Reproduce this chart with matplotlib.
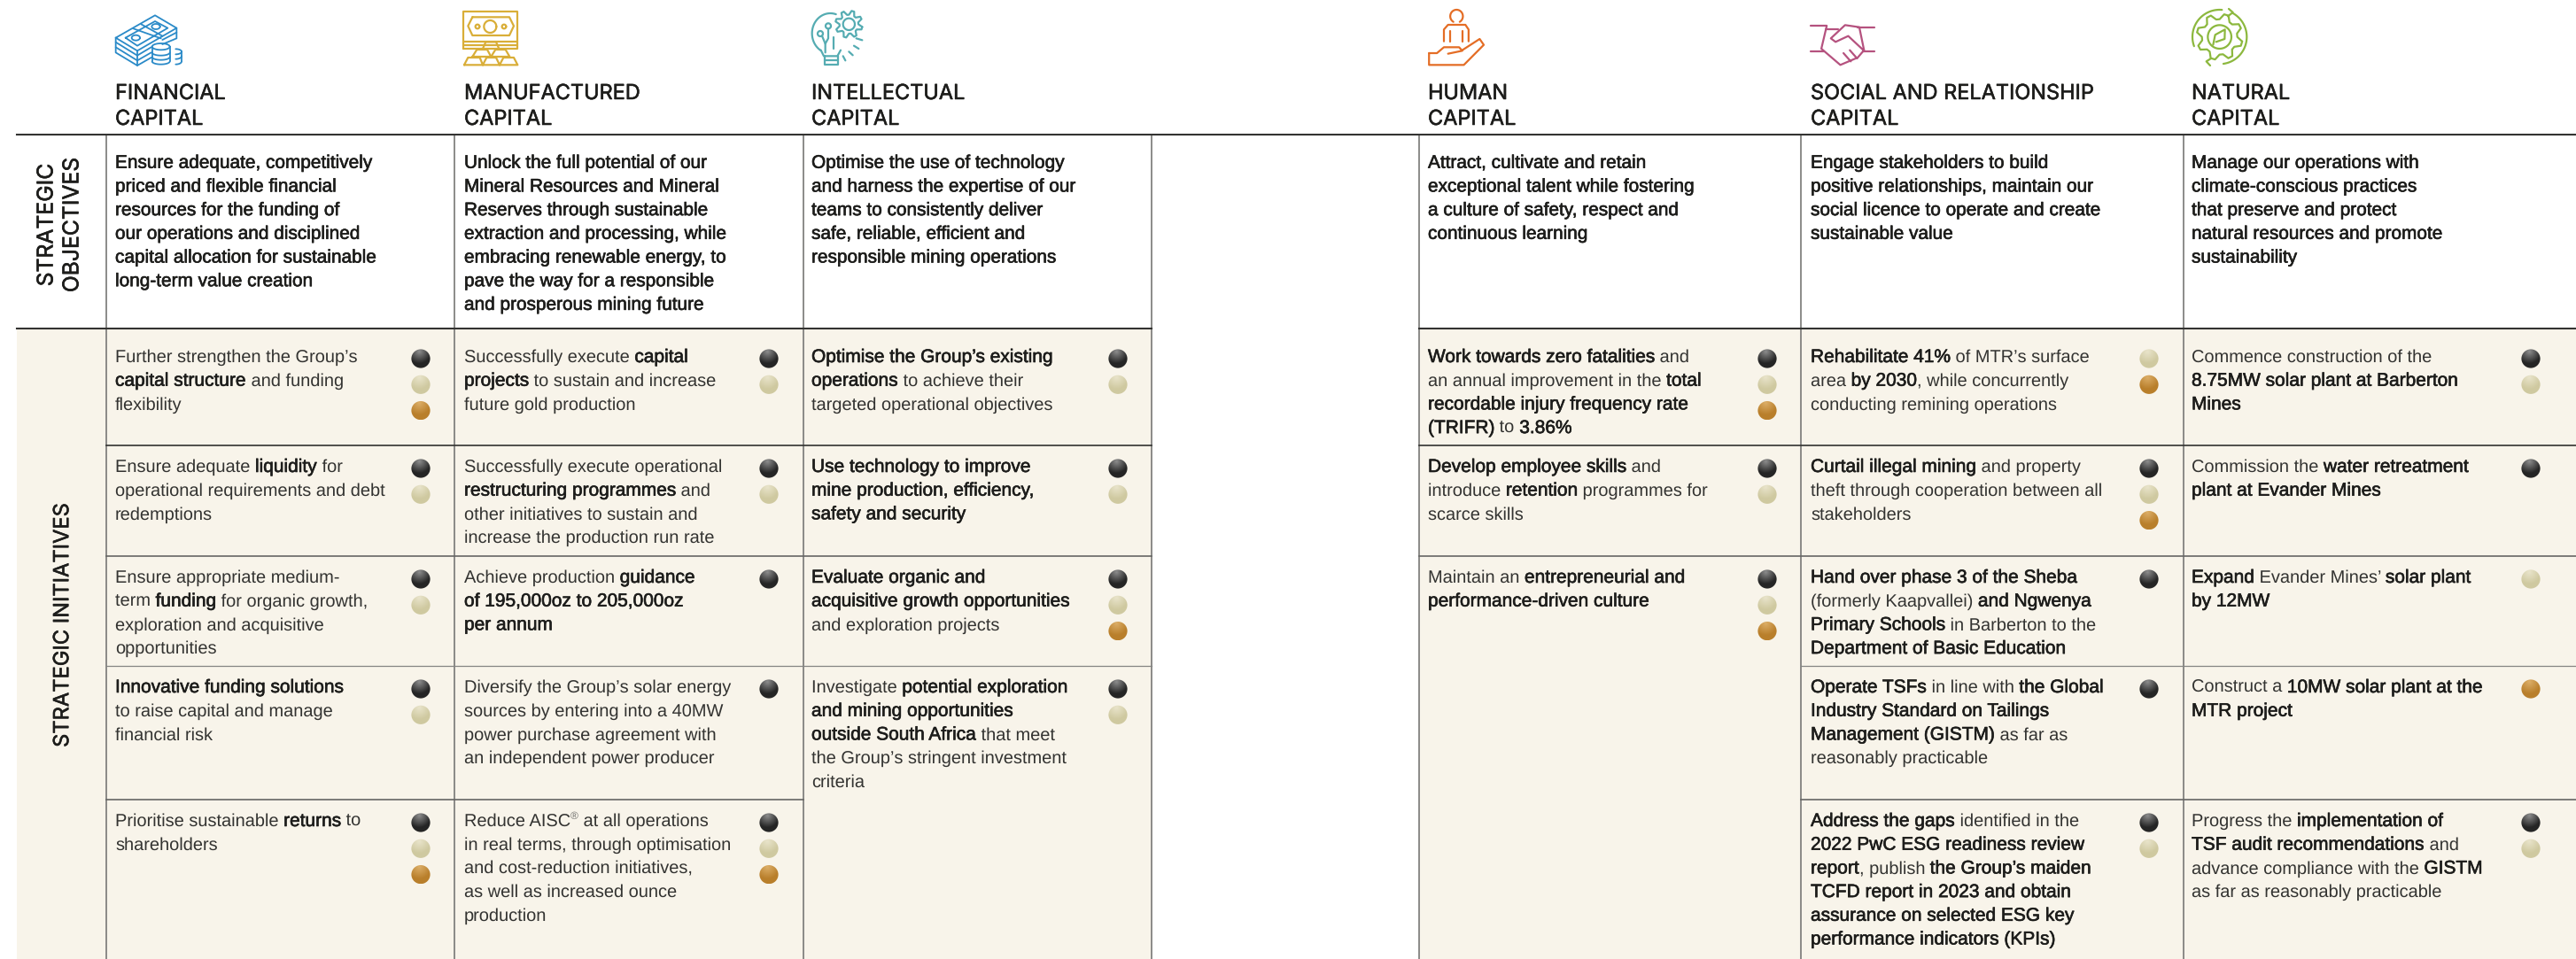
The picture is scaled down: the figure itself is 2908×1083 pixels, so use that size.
import re
import numpy as np
import matplotlib
matplotlib.use('Agg')
import matplotlib.pyplot as plt
import matplotlib.patheffects as pe
from matplotlib.patches import Rectangle, Circle
from matplotlib.textpath import TextPath
from matplotlib.font_manager import FontProperties

W, H = 2908, 1083
PX = 0.72  # px to pt at dpi 100

HEADERS = [['FINANCIAL', 'CAPITAL'], ['MANUFACTURED', 'CAPITAL'], ['INTELLECTUAL', 'CAPITAL'],
           ['HUMAN', 'CAPITAL'], ['SOCIAL AND RELATIONSHIP', 'CAPITAL'], ['NATURAL', 'CAPITAL']]

OBJECTIVES = [
    "Ensure adequate, competitively\npriced and flexible financial\nresources for the funding of\nour operations and disciplined\ncapital allocation for sustainable\nlong-term value creation",
    "Unlock the full potential of our\nMineral Resources and Mineral\nReserves through sustainable\nextraction and processing, while\nembracing renewable energy, to\npave the way for a responsible\nand prosperous mining future",
    "Optimise the use of technology\nand harness the expertise of our\nteams to consistently deliver\nsafe, reliable, efficient and\nresponsible mining operations",
    "Attract, cultivate and retain\nexceptional talent while fostering\na culture of safety, respect and\ncontinuous learning",
    "Engage stakeholders to build\npositive relationships, maintain our\nsocial licence to operate and create\nsustainable value",
    "Manage our operations with\nclimate-conscious practices\nthat preserve and protect\nnatural resources and promote\nsustainability",
]

INITIATIVES = [
    ["Further strengthen the Group’s\n**capital structure** and funding\nflexibility",
     "Ensure adequate **liquidity** for\noperational requirements and debt\nredemptions",
     "Ensure appropriate medium-\nterm **funding** for organic growth,\nexploration and acquisitive\nopportunities",
     "**Innovative funding solutions**\nto raise capital and manage\nfinancial risk",
     "Prioritise sustainable **returns** to\nshareholders"],
    ["Successfully execute **capital**\n**projects** to sustain and increase\nfuture gold production",
     "Successfully execute operational\n**restructuring programmes** and\nother initiatives to sustain and\nincrease the production run rate",
     "Achieve production **guidance**\n**of 195,000oz to 205,000oz**\n**per annum**",
     "Diversify the Group’s solar energy\nsources by entering into a 40MW\npower purchase agreement with\nan independent power producer",
     "Reduce AISC^®^ at all operations\nin real terms, through optimisation\nand cost-reduction initiatives,\nas well as increased ounce\nproduction"],
    ["**Optimise the Group’s existing**\n**operations** to achieve their\ntargeted operational objectives",
     "**Use technology to improve**\n**mine production, efficiency,**\n**safety and security**",
     "**Evaluate organic and**\n**acquisitive growth opportunities**\nand exploration projects",
     "Investigate **potential exploration**\n**and mining opportunities**\n**outside South Africa** that meet\nthe Group’s stringent investment\ncriteria"],
    ["**Work towards zero fatalities** and\nan annual improvement in the **total**\n**recordable injury frequency rate**\n**(TRIFR)** to **3.86%**",
     "**Develop employee skills** and\nintroduce **retention** programmes for\nscarce skills",
     "Maintain an **entrepreneurial and**\n**performance-driven culture**"],
    ["**Rehabilitate 41%** of MTR’s surface\narea **by 2030**, while concurrently\nconducting remining operations",
     "**Curtail illegal mining** and property\ntheft through cooperation between all\nstakeholders",
     "**Hand over phase 3 of the Sheba**\n(formerly Kaapvallei) **and Ngwenya**\n**Primary Schools** in Barberton to the\n**Department of Basic Education**",
     "**Operate TSFs** in line with **the Global**\n**Industry Standard on Tailings**\n**Management (GISTM)** as far as\nreasonably practicable",
     "**Address the gaps** identified in the\n**2022 PwC ESG readiness review**\n**report**, publish **the Group’s maiden**\n**TCFD report in 2023 and obtain**\n**assurance on selected ESG key**\n**performance indicators (KPIs)**"],
    ["Commence construction of the\n**8.75MW solar plant at Barberton**\n**Mines**",
     "Commission the **water retreatment**\n**plant at Evander Mines**",
     "**Expand** Evander Mines’ **solar plant**\n**by 12MW**",
     "Construct a **10MW solar plant at the**\n**MTR project**",
     "Progress the **implementation of**\n**TSF audit recommendations** and\nadvance compliance with the **GISTM**\nas far as reasonably practicable"],
]

# k dark, c cream, g gold
BALLS = [
    ['kcg', 'kc', 'kc', 'kc', 'kcg'],
    ['kc', 'kc', 'k', 'k', 'kcg'],
    ['kc', 'kc', 'kcg', 'kc'],
    ['kcg', 'kc', 'kcg'],
    ['cg', 'kcg', 'k', 'k', 'kc'],
    ['kc', 'k', 'c', 'g', 'kc'],
]

COL_LINES = [120, 513, 907, 1300, 1602, 2033, 2465]
LEFT_COLS = [120, 513, 907, 1602, 2033, 2465]
TEXT_PAD = [10, 11, 9, 10, 11, 9]
BALL_OFF = [355, 355, 355, 393, 393, 392]
ROW_Y = [402, 526, 651, 775, 926]
CREAM = '#f8f4ea'
INK = '#1d1d1b'
LIGHT = '#333331'

plt.rcParams['font.family'] = ['Liberation Sans']
plt.rcParams['text.hinting'] = 'no_hinting'
plt.rcParams['text.hinting_factor'] = 1
fig = plt.figure(figsize=(W / 100, H / 100), dpi=100)
ax = fig.add_axes([0, 0, 1, 1])
ax.set_xlim(0, W)
ax.set_ylim(H, 0)
ax.axis('off')
renderer = fig.canvas.get_renderer()
body_font = FontProperties(family='Liberation Sans')

BODY = 19.7 * PX
STRONG = 20.9 * PX
OBJ = 20.8 * PX
MEDIUM = [pe.withStroke(linewidth=0.45, foreground=INK)]
HEAD_FX = [pe.withStroke(linewidth=0.4, foreground=INK)]


def text_width(s, size):
    t = ax.text(0, 0, '|' + s + '|', fontsize=size)
    a = t.get_window_extent(renderer).width
    t.set_text('||')
    b = t.get_window_extent(renderer).width
    t.remove()
    return a - b


def path_width(s, size):
    # runs with a stroke are drawn as paths, so their advance comes from the path
    px = size / PX
    a = TextPath((0, 0), '|' + s + '|', size=px, prop=body_font).get_extents().width
    b = TextPath((0, 0), '||', size=px, prop=body_font).get_extents().width
    return a - b


def draw_rich(x, y, source, strong=STRONG, step=26.7):
    for i, line in enumerate(source.split('\n')):
        base = y + i * step + 7
        cx = x
        for run in re.split(r'(\*\*.*?\*\*|\^.*?\^)', line):
            if not run:
                continue
            if run.startswith('**'):
                s = run[2:-2]
                ax.text(cx, base, s, fontsize=strong, color=INK, va='baseline', path_effects=MEDIUM)
                cx += path_width(s, strong)
            elif run.startswith('^'):
                s = run[1:-1]
                ax.text(cx, base - 8, s, fontsize=BODY * 0.62, color='#6b6b68', va='baseline')
                cx += text_width(s, BODY * 0.62)
            else:
                ax.text(cx, base, run, fontsize=BODY, color=LIGHT, va='baseline')
                cx += text_width(run, BODY)


def draw_ball(cx, cy, kind, r=10.6):
    light, base = {'k': ('#8d8d8d', '#252525'), 'c': ('#e9e4cb', '#cfc9a0'), 'g': ('#dcae68', '#b97f2b')}[kind]
    n = 32
    yy, xx = np.mgrid[-1:1:n * 1j, -1:1:n * 1j]
    t = np.clip(np.hypot(xx + 0.15, yy + 0.75) / 1.25, 0, 1)[..., None]
    l = np.array(matplotlib.colors.to_rgb(light))
    b = np.array(matplotlib.colors.to_rgb(base))
    im = ax.imshow(l * (1 - t) + b * t, extent=(cx - r, cx + r, cy + r, cy - r), aspect='auto', zorder=3)
    im.set_clip_path(Circle((cx, cy), r, transform=ax.transData))


def icon(ox, pts, color, sx=3.0, lw=1.6):
    p = np.array(pts, dtype=float)
    ax.plot(ox + p[:, 0] / sx, p[:, 1] / 3.0, color=color, lw=lw, solid_capstyle='round', solid_joinstyle='round')


def arc(cx, cy, rx, ry, a0, a1, n=40):
    a = np.radians(np.linspace(a0, a1, n))
    return np.column_stack([cx + rx * np.cos(a), cy - ry * np.sin(a)])


def gear(cx, cy, r1, r2, teeth):
    a = np.radians(np.linspace(0, 360, teeth * 4 + 1)) + 0.2
    r = np.array([r2, r2, r1, r1] * teeth + [r2])
    return np.column_stack([cx + r * np.cos(a), cy + r * np.sin(a)])


def icon_financial():
    ox, c = 100, '#2a8ac8'
    for pts in [[(92, 128), (225, 52), (298, 95), (165, 172), (92, 128)],
                [(92, 128), (92, 178), (165, 222), (212, 195)],
                [(92, 143), (165, 188), (212, 160)], [(92, 160), (165, 205), (212, 178)],
                [(165, 172), (165, 222)], [(298, 95), (298, 130), (250, 150)],
                [(298, 110), (250, 135)], [(125, 128), (225, 72), (268, 95), (165, 155), (125, 128)],
                [(152, 97), (245, 130)], [(178, 82), (250, 122)]]:
        icon(ox, pts, c, lw=1.3)
    for e in [arc(160, 128, 14, 9, 0, 360), arc(228, 90, 14, 9, 0, 360)]:
        icon(ox, e, c, lw=1.3)
    # coin stacks
    icon(ox, arc(245, 158, 30, 11, 0, 360), c, lw=1.3)
    icon(ox, [(215, 158), (215, 208)], c, lw=1.3)
    icon(ox, [(275, 158), (275, 208)], c, lw=1.3)
    for y in [178, 193, 208]:
        icon(ox, arc(245, y, 30, 10, 180, 360), c, lw=1.3)
    icon(ox, arc(295, 175, 20, 9, 90, -90), c, lw=1.3)
    icon(ox, [(315, 175), (315, 208)], c, lw=1.3)
    for y in [190, 208]:
        icon(ox, arc(295, y, 20, 10, 270, 360), c, lw=1.3)


def icon_manufactured():
    ox, c = 500, '#d9ae38'
    for pts in [[(70, 165), (70, 40), (253, 40), (253, 165), (70, 165)],
                [(100, 58), (225, 58), (240, 88), (225, 120), (100, 120), (85, 88), (100, 58)],
                [(70, 140), (253, 140)], [(70, 152), (253, 152)],
                [(135, 165), (145, 142), (180, 142), (190, 165)],
                [(100, 192), (115, 168), (150, 168), (163, 192), (100, 192)],
                [(163, 192), (178, 168), (212, 168), (226, 192), (163, 192)],
                [(72, 220), (85, 195), (125, 195), (135, 220), (72, 220)],
                [(135, 220), (148, 195), (180, 195), (192, 220), (135, 220)],
                [(192, 220), (205, 195), (240, 195), (253, 220), (192, 220)]]:
        icon(ox, pts, c)
    icon(ox, arc(160, 90, 21, 21, 0, 360), c)
    icon(ox, arc(117, 90, 7, 7, 0, 360), c)
    icon(ox, arc(207, 90, 7, 7, 0, 360), c)


def icon_intellectual():
    ox, c = 500, '#55acb2'
    icon(ox, arc(1312, 113, 62, 68, 72, 238), c)
    icon(ox, [(1347, 170), (1336, 190), (1290, 190), (1280, 170)], c)
    icon(ox, [(1292, 190), (1292, 218), (1338, 218), (1338, 190)], c)
    icon(ox, [(1292, 204), (1338, 204)], c)
    icon(ox, gear(1375, 82, 32, 46, 8), c)
    icon(ox, arc(1375, 82, 20, 20, 0, 360), c)
    icon(ox, arc(1305, 88, 9, 9, 0, 360), c)
    icon(ox, arc(1278, 114, 9, 9, 0, 360), c)
    for pts in [[(1305, 98), (1305, 130), (1295, 148), (1295, 178)], [(1284, 122), (1295, 148)],
                [(1322, 125), (1322, 165)], [(1400, 130), (1420, 136)], [(1392, 155), (1408, 165)],
                [(1375, 175), (1388, 187)], [(1355, 190), (1363, 205)]]:
        icon(ox, pts, c)


def icon_human():
    ox, c, sx = 1590, '#e46d25', 2.8
    icon(ox, arc(152, 55, 20, 22, -60, 240), c, sx)
    for pts in [[(112, 140), (112, 100), (125, 84), (180, 84), (190, 100), (190, 140)],
                [(132, 105), (132, 140)], [(170, 105), (170, 140)],
                [(65, 180), (90, 180), (112, 160), (160, 160), (170, 172), (125, 182)],
                [(65, 180), (65, 220), (175, 220), (238, 152), (225, 132), (170, 170)]]:
        icon(ox, pts, c, sx)


def icon_social():
    ox, c, sx = 1590, '#b5527f', 2.8
    for pts in [[(1270, 88), (1322, 88)], [(1420, 92), (1472, 92)], [(1270, 175), (1312, 175)],
                [(1435, 175), (1472, 175)],
                [(1322, 88), (1305, 165), (1365, 220), (1420, 195), (1440, 170), (1425, 92), (1380, 85), (1335, 130), (1350, 142), (1390, 122), (1440, 172)],
                [(1320, 100), (1358, 100)], [(1375, 180), (1398, 208)], [(1395, 170), (1418, 198)]]:
        icon(ox, pts, c, sx)


def icon_natural():
    ox, c = 2440, '#8cb83e'
    icon(ox, arc(197, 125, 92, 92, 200, 85), c)
    icon(ox, arc(197, 125, 92, 92, 62, -82), c)
    icon(ox, [(228, 30), (242, 42), (225, 55)], c)
    icon(ox, [(168, 198), (152, 208), (165, 222)], c)
    icon(ox, gear(197, 125, 60, 78, 8), c)
    icon(ox, arc(197, 125, 40, 40, 0, 360), c)
    icon(ox, [(175, 152), (182, 118), (215, 100), (214, 132), (185, 142)], c)


# cream panels
ax.add_patch(Rectangle((19, 371), 1300 - 19, H - 371, fc=CREAM, ec='none', zorder=0))
ax.add_patch(Rectangle((1602, 371), W - 1602, H - 371, fc=CREAM, ec='none', zorder=0))

# column rules
for x in COL_LINES:
    ax.plot([x, x], [152, H], color='#787876', lw=1.2, zorder=1)

# row rules
ax.plot([19, W], [152, 152], color='#333331', lw=1.5, zorder=2)
for x0, x1, y, c, lw in [(19, 1300, 371, '#333331', 1.5), (1602, W, 371, '#333331', 1.5),
                         (120, 1300, 503, '#333331', 1.2), (1602, W, 503, '#333331', 1.2),
                         (120, 1300, 628, '#666664', 1.2), (1602, W, 628, '#666664', 1.2),
                         (120, 1300, 752, '#858583', 0.9), (2033, W, 752, '#858583', 0.9),
                         (120, 907, 903, '#666664', 1.2), (2033, W, 903, '#666664', 1.2)]:
    ax.plot([x0, x1], [y, y], color=c, lw=lw, zorder=2)

# headers
for i, head in enumerate(HEADERS):
    x = LEFT_COLS[i] + TEXT_PAD[i]
    ax.text(x, 112, head[0], fontsize=23.5 * PX, family='Inter', color=INK, va='baseline', path_effects=HEAD_FX)
    ax.text(x, 141, head[1], fontsize=23.5 * PX, family='Inter', color=INK, va='baseline', path_effects=HEAD_FX)

# side labels
side = dict(rotation=90, ha='center', va='center', family='Inter', color=INK, path_effects=HEAD_FX)
ax.text(53, 254, 'STRATEGIC', fontsize=24.7 * PX, **side)
ax.text(82, 254, 'OBJECTIVES', fontsize=24.7 * PX, **side)
ax.text(71, 706, 'STRATEGIC INITIATIVES', fontsize=23.7 * PX, **side)

# objectives
for i, obj in enumerate(OBJECTIVES):
    draw_rich(LEFT_COLS[i] + TEXT_PAD[i], 182.7, '\n'.join('**%s**' % s for s in obj.split('\n')), strong=OBJ)

# initiatives and balls
for i, col in enumerate(INITIATIVES):
    x = LEFT_COLS[i] + TEXT_PAD[i]
    for r, cell in enumerate(col):
        draw_rich(x, ROW_Y[r], cell)
        for k, kind in enumerate(BALLS[i][r]):
            draw_ball(LEFT_COLS[i] + BALL_OFF[i], ROW_Y[r] + 3 + k * 29.3, kind)

icon_financial()
icon_manufactured()
icon_intellectual()
icon_human()
icon_social()
icon_natural()

ax.set_xlim(0, W)
ax.set_ylim(H, 0)
fig.savefig('out.png', dpi=100, facecolor='white')
